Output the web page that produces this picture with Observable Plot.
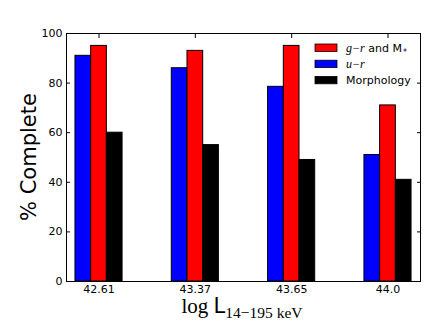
<!DOCTYPE html>
<html><head><meta charset="utf-8">
<script src="https://cdn.jsdelivr.net/npm/d3@7"></script>
<script src="https://cdn.jsdelivr.net/npm/@observablehq/plot@0.6"></script>
<style>body{margin:0;background:#fff} svg{display:block}</style>
</head><body><div id="chart"></div>
<script>
const categories = ["42.61", "43.37", "43.65", "44.0"];
const urValues = [91, 86, 78.5, 51];
const grValues = [95, 93, 95, 71];
const morphValues = [60, 55, 49, 41];
const seriesNames = ["u−r", "g−r and M*", "Morphology"];
const seriesColors = ["#0000ff", "#ff0000", "#000000"];
const yTicks = [0, 20, 40, 60, 80, 100];

const barWidth = 0.163;
const rows = [];
[urValues, grValues, morphValues].forEach((vals, s) => {
  vals.forEach((v, i) => rows.push({
    i, series: seriesNames[s], color: seriesColors[s], value: v,
    x1: i + (s - 1.5) * barWidth, x2: i + (s - 0.5) * barWidth
  }));
});
const groupIdx = categories.map((c, i) => i);

const plot = Plot.plot({
  width: 442, height: 331,
  marginLeft: 66, marginRight: 22, marginTop: 33, marginBottom: 50,
  style: {fontFamily: "DejaVu Sans", fontSize: "11px", background: "#fff", color: "#000"},
  x: {type: "linear", domain: [-0.3375, 3.3375]},
  y: {domain: [0, 100]},
  color: {type: "identity"},
  marks: [
    Plot.rectY(rows, {x1: "x1", x2: "x2", y1: d => 0, y2: "value", fill: "color", stroke: "#000", strokeWidth: 1}),
    Plot.axisY(yTicks, {anchor: "left", tickSize: 0, tickPadding: 4, label: null, fontSize: 11}),
    Plot.axisY(yTicks, {anchor: "left", tickSize: -4, tickFormat: () => "", label: null}),
    Plot.axisY(yTicks, {anchor: "right", tickSize: -4, tickFormat: () => "", label: null}),
    Plot.axisX(groupIdx, {anchor: "bottom", tickSize: 0, tickPadding: 4, tickFormat: i => categories[i], label: null, fontSize: 11}),
    Plot.axisX(groupIdx, {anchor: "top", tickSize: -4, tickFormat: () => "", label: null}),
    Plot.frame({stroke: "#000", strokeWidth: 1})
  ]
});
document.getElementById("chart").appendChild(plot);

const svg = d3.select(plot);
// y label
svg.append("text")
  .attr("transform", "translate(36,157) rotate(-90)")
  .attr("text-anchor", "middle")
  .attr("font-family", "DejaVu Sans").attr("font-size", 21).attr("fill", "#000")
  .text("% Complete");
// x label
const xl = svg.append("text")
  .attr("x", 242).attr("y", 313)
  .attr("text-anchor", "middle").attr("fill", "#000");
xl.append("tspan").attr("font-family", "Liberation Serif").attr("font-size", 21).text("log ");
xl.append("tspan").attr("font-family", "DejaVu Sans").attr("font-size", 21).text("L");
xl.append("tspan").attr("font-family", "Liberation Serif").attr("font-size", 15.5).attr("dy", 5).text("14−195 keV");

// legend
const legendItems = [
  {color: seriesColors[1], parts: [["g−r", "serif-i"], [" and M", "sans"], ["*", "sub"]]},
  {color: seriesColors[0], parts: [["u−r", "serif-i"]]},
  {color: seriesColors[2], parts: [["Morphology", "sans"]]}
];
const lg = svg.append("g").attr("text-anchor", "start");
legendItems.forEach((it, k) => {
  const cy = 47.7 + k * 16.2;
  lg.append("rect").attr("x", 315).attr("y", cy - 3.7).attr("width", 22).attr("height", 7.4)
    .attr("fill", it.color).attr("stroke", "#000").attr("stroke-width", 0.8);
  const t = lg.append("text").attr("x", 346).attr("y", cy + 4).attr("fill", "#000")
    .attr("font-size", 11).attr("text-anchor", "start");
  it.parts.forEach(([s, kind]) => {
    const ts = t.append("tspan").text(s);
    if (kind === "serif-i") ts.attr("font-family", "Liberation Serif").attr("font-style", "italic").attr("font-size", 12);
    else if (kind === "sans") ts.attr("font-family", "DejaVu Sans");
    else ts.attr("font-family", "DejaVu Sans").attr("font-size", 8).attr("dy", 3).attr("dx", 1);
  });
});
</script></body></html>
